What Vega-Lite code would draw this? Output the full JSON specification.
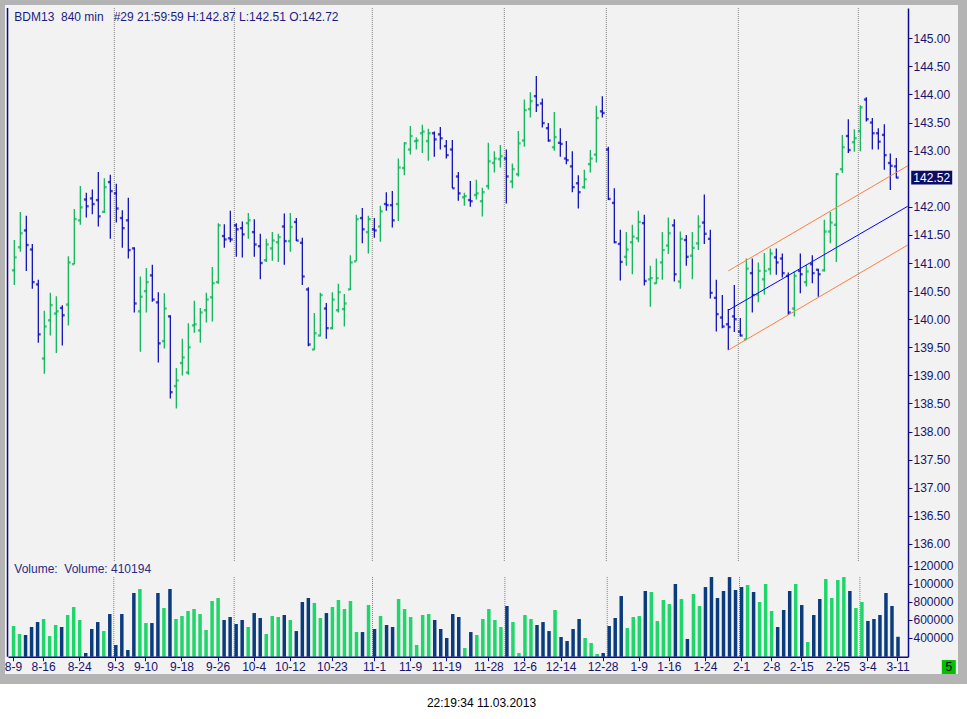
{
  "$schema": "https://vega.github.io/schema/vega-lite/v6.json",
  "width": 963,
  "height": 679,
  "autosize": {"type": "none"},
  "padding": {"left": 0, "top": 0, "right": 4, "bottom": 40},
  "background": "#ffffff",
  "config": {
    "font": "Liberation Sans",
    "view": {"fill": "#f2f2f2", "stroke": "#b4b4b4", "strokeWidth": 10}
  },
  "title": {
    "text": "22:19:34 11.03.2013",
    "orient": "bottom",
    "anchor": "middle",
    "frame": "group",
    "fontSize": 12,
    "fontWeight": "normal",
    "color": "#000000",
    "offset": 19
  },
  "data": {
    "values": [
      {"i":0,"d":"8-9","O":140.87,"H":141.41,"L":140.61,"C":141.10,"V":530000},
      {"i":1,"d":"8-10","O":141.28,"H":141.91,"L":141.20,"C":141.53,"V":441000},
      {"i":2,"d":"8-13","O":141.58,"H":141.84,"L":140.86,"C":141.32,"V":430000},
      {"i":3,"d":"8-14","O":141.24,"H":141.34,"L":140.54,"C":140.66,"V":519000},
      {"i":4,"d":"8-15","O":140.62,"H":140.70,"L":139.58,"C":139.73,"V":574000},
      {"i":5,"d":"8-16","O":139.30,"H":140.15,"L":139.03,"C":139.87,"V":608000},
      {"i":6,"d":"8-17","O":139.98,"H":140.47,"L":139.71,"C":140.25,"V":419000},
      {"i":7,"d":"8-20","O":140.10,"H":140.41,"L":139.40,"C":140.14,"V":541000},
      {"i":8,"d":"8-21","O":140.20,"H":140.25,"L":139.53,"C":140.07,"V":519000},
      {"i":9,"d":"8-22","O":140.26,"H":141.12,"L":139.89,"C":141.01,"V":652000},
      {"i":10,"d":"8-23","O":140.98,"H":141.96,"L":140.98,"C":141.78,"V":741000},
      {"i":11,"d":"8-24","O":141.76,"H":142.37,"L":141.68,"C":141.99,"V":597000},
      {"i":12,"d":"8-27","O":142.13,"H":142.25,"L":141.81,"C":142.01,"V":230000},
      {"i":13,"d":"8-28","O":142.15,"H":142.31,"L":141.87,"C":142.05,"V":497000},
      {"i":14,"d":"8-29","O":142.12,"H":142.62,"L":141.65,"C":141.83,"V":574000},
      {"i":15,"d":"8-30","O":141.91,"H":142.51,"L":141.89,"C":142.35,"V":474000},
      {"i":16,"d":"8-31","O":142.44,"H":142.57,"L":141.43,"C":142.28,"V":663000},
      {"i":17,"d":"9-3","O":142.24,"H":142.41,"L":141.72,"C":141.97,"V":319000,"ms":1},
      {"i":18,"d":"9-4","O":141.80,"H":141.94,"L":141.27,"C":141.62,"V":663000},
      {"i":19,"d":"9-5","O":141.76,"H":142.16,"L":141.08,"C":141.23,"V":263000},
      {"i":20,"d":"9-6","O":141.26,"H":141.28,"L":140.12,"C":140.28,"V":897000},
      {"i":21,"d":"9-7","O":140.14,"H":140.76,"L":139.42,"C":140.40,"V":941000},
      {"i":22,"d":"9-10","O":140.50,"H":140.91,"L":140.12,"C":140.66,"V":563000},
      {"i":23,"d":"9-11","O":140.78,"H":140.97,"L":140.31,"C":140.35,"V":563000},
      {"i":24,"d":"9-12","O":140.30,"H":140.48,"L":139.23,"C":139.57,"V":897000},
      {"i":25,"d":"9-13","O":139.61,"H":140.46,"L":139.48,"C":140.19,"V":730000},
      {"i":26,"d":"9-14","O":140.05,"H":140.07,"L":138.59,"C":138.70,"V":941000},
      {"i":27,"d":"9-17","O":138.81,"H":139.13,"L":138.41,"C":138.91,"V":608000},
      {"i":28,"d":"9-18","O":139.22,"H":139.65,"L":139.00,"C":139.32,"V":641000},
      {"i":29,"d":"9-19","O":139.05,"H":139.93,"L":139.01,"C":139.50,"V":697000},
      {"i":30,"d":"9-20","O":139.89,"H":140.33,"L":139.76,"C":139.91,"V":719000},
      {"i":31,"d":"9-21","O":139.80,"H":140.20,"L":139.58,"C":140.12,"V":663000},
      {"i":32,"d":"9-24","O":140.16,"H":140.47,"L":139.94,"C":140.35,"V":486000},
      {"i":33,"d":"9-25","O":140.39,"H":140.93,"L":139.96,"C":140.64,"V":808000},
      {"i":34,"d":"9-26","O":140.66,"H":141.71,"L":140.63,"C":141.67,"V":841000},
      {"i":35,"d":"9-27","O":141.48,"H":141.69,"L":141.27,"C":141.42,"V":597000},
      {"i":36,"d":"9-28","O":141.44,"H":141.93,"L":141.37,"C":141.42,"V":630000},
      {"i":37,"d":"10-1","O":141.67,"H":141.71,"L":141.11,"C":141.60,"V":552000,"ms":1},
      {"i":38,"d":"10-2","O":141.62,"H":141.74,"L":141.10,"C":141.51,"V":597000},
      {"i":39,"d":"10-3","O":141.71,"H":141.89,"L":141.43,"C":141.76,"V":519000},
      {"i":40,"d":"10-4","O":141.55,"H":141.78,"L":141.11,"C":141.33,"V":674000},
      {"i":41,"d":"10-5","O":141.30,"H":141.52,"L":140.71,"C":141.00,"V":619000},
      {"i":42,"d":"10-8","O":141.05,"H":141.43,"L":141.02,"C":141.33,"V":441000},
      {"i":43,"d":"10-9","O":141.26,"H":141.55,"L":141.04,"C":141.40,"V":641000},
      {"i":44,"d":"10-10","O":141.37,"H":141.52,"L":141.02,"C":141.46,"V":630000},
      {"i":45,"d":"10-11","O":141.65,"H":141.88,"L":140.97,"C":141.39,"V":652000},
      {"i":46,"d":"10-12","O":141.39,"H":141.89,"L":141.20,"C":141.64,"V":597000},
      {"i":47,"d":"10-15","O":141.73,"H":141.80,"L":141.39,"C":141.40,"V":474000},
      {"i":48,"d":"10-16","O":141.36,"H":141.45,"L":140.61,"C":140.76,"V":797000},
      {"i":49,"d":"10-17","O":140.53,"H":140.57,"L":139.52,"C":139.55,"V":841000},
      {"i":50,"d":"10-18","O":139.46,"H":140.11,"L":139.45,"C":139.75,"V":786000},
      {"i":51,"d":"10-19","O":139.71,"H":140.47,"L":139.69,"C":140.43,"V":619000},
      {"i":52,"d":"10-22","O":140.19,"H":140.29,"L":139.65,"C":139.84,"V":674000},
      {"i":53,"d":"10-23","O":139.84,"H":140.48,"L":139.82,"C":140.35,"V":741000},
      {"i":54,"d":"10-24","O":140.16,"H":140.63,"L":140.12,"C":140.48,"V":819000},
      {"i":55,"d":"10-25","O":140.18,"H":140.45,"L":139.87,"C":140.28,"V":719000},
      {"i":56,"d":"10-26","O":140.53,"H":141.14,"L":140.52,"C":141.01,"V":808000},
      {"i":57,"d":"10-29","O":141.03,"H":141.86,"L":141.03,"C":141.78,"V":463000},
      {"i":58,"d":"10-30","O":141.80,"H":141.98,"L":141.35,"C":141.60,"V":463000},
      {"i":59,"d":"10-31","O":141.55,"H":141.84,"L":141.17,"C":141.78,"V":763000},
      {"i":60,"d":"11-1","O":141.60,"H":141.80,"L":141.45,"C":141.58,"V":497000,"ms":1},
      {"i":61,"d":"11-2","O":141.65,"H":142.02,"L":141.38,"C":141.92,"V":641000},
      {"i":62,"d":"11-5","O":142.05,"H":142.26,"L":141.93,"C":142.03,"V":541000},
      {"i":63,"d":"11-6","O":142.03,"H":142.28,"L":141.63,"C":141.76,"V":519000},
      {"i":64,"d":"11-7","O":142.05,"H":142.86,"L":141.75,"C":142.70,"V":830000},
      {"i":65,"d":"11-8","O":142.69,"H":143.15,"L":142.56,"C":143.13,"V":719000},
      {"i":66,"d":"11-9","O":143.02,"H":143.44,"L":142.93,"C":143.26,"V":630000},
      {"i":67,"d":"11-12","O":143.17,"H":143.24,"L":143.02,"C":143.18,"V":319000},
      {"i":68,"d":"11-13","O":143.31,"H":143.46,"L":142.96,"C":143.34,"V":652000},
      {"i":69,"d":"11-14","O":143.17,"H":143.39,"L":142.82,"C":143.31,"V":663000},
      {"i":70,"d":"11-15","O":143.31,"H":143.34,"L":142.89,"C":143.20,"V":597000},
      {"i":71,"d":"11-16","O":143.29,"H":143.42,"L":143.02,"C":143.22,"V":497000},
      {"i":72,"d":"11-19","O":143.08,"H":143.19,"L":142.86,"C":142.92,"V":397000},
      {"i":73,"d":"11-20","O":143.02,"H":143.19,"L":142.33,"C":142.33,"V":663000},
      {"i":74,"d":"11-21","O":142.54,"H":142.62,"L":142.11,"C":142.24,"V":630000},
      {"i":75,"d":"11-22","O":142.17,"H":142.25,"L":142.02,"C":142.19,"V":286000},
      {"i":76,"d":"11-23","O":142.12,"H":142.46,"L":142.00,"C":142.10,"V":463000},
      {"i":77,"d":"11-26","O":142.21,"H":142.48,"L":142.13,"C":142.24,"V":430000},
      {"i":78,"d":"11-27","O":142.10,"H":142.34,"L":141.83,"C":142.26,"V":608000},
      {"i":79,"d":"11-28","O":142.37,"H":143.14,"L":142.31,"C":142.81,"V":719000},
      {"i":80,"d":"11-29","O":142.78,"H":142.99,"L":142.61,"C":142.86,"V":597000},
      {"i":81,"d":"11-30","O":142.85,"H":143.10,"L":142.70,"C":142.90,"V":519000},
      {"i":82,"d":"12-3","O":142.86,"H":143.02,"L":142.06,"C":142.54,"V":752000,"ms":1},
      {"i":83,"d":"12-4","O":142.45,"H":142.77,"L":142.33,"C":142.67,"V":574000},
      {"i":84,"d":"12-5","O":142.58,"H":143.35,"L":142.54,"C":143.13,"V":230000},
      {"i":85,"d":"12-6","O":143.18,"H":143.91,"L":143.07,"C":143.72,"V":652000},
      {"i":86,"d":"12-7","O":143.74,"H":144.04,"L":143.59,"C":143.88,"V":608000},
      {"i":87,"d":"12-10","O":143.97,"H":144.33,"L":143.69,"C":143.81,"V":541000},
      {"i":88,"d":"12-11","O":143.84,"H":143.93,"L":143.41,"C":143.49,"V":574000},
      {"i":89,"d":"12-12","O":143.40,"H":143.49,"L":143.16,"C":143.18,"V":474000},
      {"i":90,"d":"12-13","O":143.06,"H":143.69,"L":143.00,"C":143.24,"V":708000},
      {"i":91,"d":"12-14","O":143.14,"H":143.40,"L":142.89,"C":143.12,"V":408000},
      {"i":92,"d":"12-17","O":142.86,"H":143.17,"L":142.76,"C":142.83,"V":363000},
      {"i":93,"d":"12-18","O":142.72,"H":142.99,"L":142.26,"C":142.35,"V":497000},
      {"i":94,"d":"12-19","O":142.42,"H":142.56,"L":141.97,"C":142.26,"V":608000},
      {"i":95,"d":"12-20","O":142.35,"H":142.66,"L":142.32,"C":142.49,"V":397000},
      {"i":96,"d":"12-21","O":142.76,"H":143.01,"L":142.61,"C":142.86,"V":341000},
      {"i":97,"d":"12-27","O":142.93,"H":143.80,"L":142.79,"C":143.58,"V":219000},
      {"i":98,"d":"12-28","O":143.70,"H":143.97,"L":143.59,"C":143.67,"V":230000},
      {"i":99,"d":"1-2","O":143.02,"H":143.07,"L":142.12,"C":142.14,"V":530000,"ms":1},
      {"i":100,"d":"1-3","O":142.07,"H":142.33,"L":141.35,"C":141.37,"V":619000},
      {"i":101,"d":"1-4","O":141.34,"H":141.59,"L":140.69,"C":141.02,"V":863000},
      {"i":102,"d":"1-7","O":141.11,"H":141.55,"L":140.95,"C":141.24,"V":508000},
      {"i":103,"d":"1-8","O":141.37,"H":141.68,"L":140.80,"C":141.47,"V":630000},
      {"i":104,"d":"1-9","O":141.44,"H":141.93,"L":141.37,"C":141.73,"V":641000},
      {"i":105,"d":"1-10","O":141.71,"H":141.86,"L":140.60,"C":140.68,"V":919000},
      {"i":106,"d":"1-11","O":140.71,"H":140.95,"L":140.22,"C":140.73,"V":908000},
      {"i":107,"d":"1-14","O":140.64,"H":141.08,"L":140.63,"C":140.73,"V":586000},
      {"i":108,"d":"1-15","O":141.01,"H":141.55,"L":140.70,"C":141.23,"V":819000},
      {"i":109,"d":"1-16","O":141.31,"H":141.81,"L":141.16,"C":141.53,"V":774000},
      {"i":110,"d":"1-17","O":141.67,"H":141.78,"L":140.67,"C":140.80,"V":997000},
      {"i":111,"d":"1-18","O":140.67,"H":141.56,"L":140.54,"C":141.43,"V":830000},
      {"i":112,"d":"1-21","O":141.41,"H":141.50,"L":140.95,"C":141.11,"V":386000},
      {"i":113,"d":"1-22","O":141.13,"H":141.55,"L":140.71,"C":141.27,"V":886000},
      {"i":114,"d":"1-23","O":141.35,"H":141.85,"L":141.23,"C":141.65,"V":752000},
      {"i":115,"d":"1-24","O":141.72,"H":142.22,"L":141.34,"C":141.52,"V":963000},
      {"i":116,"d":"1-25","O":141.43,"H":141.59,"L":140.37,"C":140.47,"V":1074000},
      {"i":117,"d":"1-28","O":140.38,"H":140.70,"L":139.78,"C":140.09,"V":841000},
      {"i":118,"d":"1-29","O":140.03,"H":140.43,"L":139.84,"C":139.87,"V":919000},
      {"i":119,"d":"1-30","O":139.91,"H":140.18,"L":139.45,"C":139.86,"V":1074000},
      {"i":120,"d":"1-31","O":140.05,"H":140.61,"L":139.77,"C":140.00,"V":930000},
      {"i":121,"d":"2-1","O":139.78,"H":140.02,"L":139.69,"C":139.71,"V":963000,"ms":1},
      {"i":122,"d":"2-4","O":139.64,"H":141.08,"L":139.63,"C":140.90,"V":986000},
      {"i":123,"d":"2-5","O":140.82,"H":141.08,"L":140.12,"C":140.43,"V":908000},
      {"i":124,"d":"2-6","O":140.44,"H":141.01,"L":140.30,"C":140.86,"V":797000},
      {"i":125,"d":"2-7","O":140.71,"H":141.18,"L":140.44,"C":140.86,"V":997000},
      {"i":126,"d":"2-8","O":140.89,"H":141.26,"L":140.79,"C":141.17,"V":697000},
      {"i":127,"d":"2-11","O":141.10,"H":141.26,"L":140.79,"C":141.01,"V":519000},
      {"i":128,"d":"2-12","O":141.08,"H":141.17,"L":140.74,"C":140.82,"V":708000},
      {"i":129,"d":"2-13","O":140.77,"H":140.83,"L":140.08,"C":140.12,"V":919000},
      {"i":130,"d":"2-14","O":140.19,"H":140.85,"L":140.05,"C":140.77,"V":997000},
      {"i":131,"d":"2-15","O":140.86,"H":141.17,"L":140.46,"C":140.80,"V":763000},
      {"i":132,"d":"2-18","O":140.66,"H":140.97,"L":140.58,"C":140.85,"V":352000},
      {"i":133,"d":"2-19","O":140.98,"H":141.14,"L":140.64,"C":140.82,"V":652000},
      {"i":134,"d":"2-20","O":140.88,"H":140.90,"L":140.40,"C":140.80,"V":830000},
      {"i":135,"d":"2-21","O":140.87,"H":141.77,"L":140.85,"C":141.56,"V":1052000},
      {"i":136,"d":"2-22","O":141.56,"H":141.91,"L":141.35,"C":141.72,"V":841000},
      {"i":137,"d":"2-25","O":141.68,"H":142.60,"L":141.02,"C":142.58,"V":1041000},
      {"i":138,"d":"2-26","O":142.67,"H":143.28,"L":142.60,"C":143.06,"V":1074000},
      {"i":139,"d":"2-27","O":143.26,"H":143.56,"L":142.96,"C":143.01,"V":919000},
      {"i":140,"d":"2-28","O":143.15,"H":143.38,"L":142.98,"C":143.22,"V":730000},
      {"i":141,"d":"3-1","O":143.35,"H":143.81,"L":142.99,"C":143.77,"V":797000,"ms":1},
      {"i":142,"d":"3-4","O":143.91,"H":143.95,"L":143.52,"C":143.56,"V":586000},
      {"i":143,"d":"3-5","O":143.50,"H":143.58,"L":143.02,"C":143.31,"V":608000},
      {"i":144,"d":"3-6","O":143.31,"H":143.40,"L":143.02,"C":143.16,"V":652000},
      {"i":145,"d":"3-7","O":143.28,"H":143.47,"L":142.66,"C":142.92,"V":897000},
      {"i":146,"d":"3-8","O":142.78,"H":142.95,"L":142.30,"C":142.73,"V":752000},
      {"i":147,"d":"3-11","O":142.72,"H":142.87,"L":142.51,"C":142.52,"V":410194}
    ]
  },
  "layer": [
    {
      "mark": {"type": "rule", "stroke": "#808080", "strokeWidth": 1, "strokeDash": [1, 1], "xOffset": -2},
      "encoding": {
        "x": {"field": "d", "type": "ordinal", "sort": {"field": "i", "op": "min"}, "axis": null,
              "scale": {"type": "band", "range": [8, 908], "paddingInner": 0.42, "paddingOuter": 1.21, "align": 0.314, "round": false}},
        "y": {"datum": 1074444, "type": "quantitative", "axis": null,
              "scale": {"type": "linear", "domain": [188889, 1207778], "range": [656.7, 565], "nice": false, "zero": false}},
        "y2": {"datum": 188889},
        "strokeOpacity": {"condition": {"test": "datum.ms", "value": 1}, "value": 0}
      }
    },
    {
      "mark": {"type": "bar"},
      "encoding": {
        "x": {"field": "d", "type": "ordinal", "sort": {"field": "i", "op": "min"},
              "scale": {"type": "band", "range": [8, 908], "paddingInner": 0.42, "paddingOuter": 1.21, "align": 0.314, "round": false},
              "axis": {"orient": "bottom", "offset": -22.3, "title": null, "grid": false, "labelAngle": 0, "zindex": 1,
                       "values": ["8-9", "8-16", "8-24", "9-3", "9-10", "9-18", "9-26", "10-4", "10-12", "10-23", "11-1", "11-9", "11-19", "11-28", "12-6", "12-14", "12-28", "1-9", "1-16", "1-24", "2-1", "2-8", "2-15", "2-25", "3-4", "3-11"],
                       "labelFontSize": 12, "labelColor": "#14146e", "labelPadding": 1, "labelOverlap": false,
                       "tickColor": "#0a0a8a", "tickSize": 4, "domainColor": "#0a0a8a", "domainWidth": 1.5}},
        "y": {"field": "V", "type": "quantitative",
              "scale": {"type": "linear", "domain": [188889, 1207778], "range": [656.7, 565], "nice": false, "zero": false},
              "axis": {"orient": "right", "offset": -55, "title": null, "grid": false, "zindex": 1,
                       "values": [400000, 600000, 800000, 1000000, 1200000],
                       "labelExpr": "substring(format(datum.value, 'd'), 0, 6)",
                       "labelFontSize": 12, "labelColor": "#14146e", "labelPadding": 1,
                       "tickColor": "#0a0a8a", "tickSize": 4, "domainColor": "#0a0a8a", "domainWidth": 1.5}},
        "y2": {"datum": 188889},
        "color": {"condition": {"test": "datum.C > datum.O", "value": "#1ed66a"}, "value": "#0a3c7d"}
      }
    },
    {
      "transform": [{"filter": "datum.ms"}],
      "mark": {"type": "rule", "stroke": "#808080", "strokeWidth": 1, "strokeDash": [1, 1], "xOffset": -2},
      "encoding": {
        "x": {"field": "i", "type": "quantitative", "axis": null,
              "scale": {"type": "linear", "domain": [-1.05, 148.95], "range": [8, 908], "nice": false, "zero": false}},
        "y": {"datum": 145.539, "type": "quantitative", "axis": null,
              "scale": {"type": "linear", "domain": [135.625, 145.539], "range": [565, 8], "nice": false, "zero": false}},
        "y2": {"datum": 135.68}
      }
    },
    {
      "data": {"values": [{}]},
      "mark": {"type": "rule", "stroke": "#0a0a8a", "strokeWidth": 1.5},
      "encoding": {
        "x": {"datum": -1.13, "type": "quantitative", "axis": null,
              "scale": {"type": "linear", "domain": [-1.05, 148.95], "range": [8, 908], "nice": false, "zero": false}},
        "y": {"datum": 145.539, "type": "quantitative", "axis": null,
              "scale": {"type": "linear", "domain": [135.625, 145.539], "range": [565, 8], "nice": false, "zero": false}},
        "y2": {"datum": 133.993}
      }
    },
    {
      "mark": {"type": "rule", "strokeWidth": 1.2},
      "encoding": {
        "x": {"field": "i", "type": "quantitative", "axis": null,
              "scale": {"type": "linear", "domain": [-1.05, 148.95], "range": [8, 908], "nice": false, "zero": false}},
        "y": {"field": "L", "type": "quantitative",
              "scale": {"type": "linear", "domain": [135.625, 145.539], "range": [565, 8], "nice": false, "zero": false},
              "axis": {"orient": "right", "offset": -55, "title": null, "grid": false, "zindex": 1,
                       "values": [136, 136.5, 137, 137.5, 138, 138.5, 139, 139.5, 140, 140.5, 141, 141.5, 142, 143, 143.5, 144, 144.5, 145],
                       "format": ".2f", "labelFontSize": 12, "labelColor": "#14146e", "labelPadding": 1,
                       "tickColor": "#0a0a8a", "tickSize": 4, "domainColor": "#0a0a8a", "domainWidth": 1.5}},
        "y2": {"field": "H"},
        "color": {"condition": {"test": "datum.C > datum.O", "value": "#00b050"}, "value": "#0000b4"}
      }
    },
    {
      "mark": {"type": "tick", "orient": "horizontal", "size": 2.4, "thickness": 2.4, "xOffset": -1.2},
      "encoding": {
        "x": {"field": "i", "type": "quantitative", "axis": null,
              "scale": {"type": "linear", "domain": [-1.05, 148.95], "range": [8, 908], "nice": false, "zero": false}},
        "y": {"field": "O", "type": "quantitative", "axis": null,
              "scale": {"type": "linear", "domain": [135.625, 145.539], "range": [565, 8], "nice": false, "zero": false}},
        "color": {"condition": {"test": "datum.C > datum.O", "value": "#00b050"}, "value": "#0000b4"}
      }
    },
    {
      "mark": {"type": "tick", "orient": "horizontal", "size": 2.4, "thickness": 2.4, "xOffset": 1.2},
      "encoding": {
        "x": {"field": "i", "type": "quantitative", "axis": null,
              "scale": {"type": "linear", "domain": [-1.05, 148.95], "range": [8, 908], "nice": false, "zero": false}},
        "y": {"field": "C", "type": "quantitative", "axis": null,
              "scale": {"type": "linear", "domain": [135.625, 145.539], "range": [565, 8], "nice": false, "zero": false}},
        "color": {"condition": {"test": "datum.C > datum.O", "value": "#00b050"}, "value": "#0000b4"}
      }
    },
    {
      "data": {
        "values": [
          {"i": 119, "p": 140.86, "s": "up"},
          {"i": 148.9, "p": 142.73, "s": "up"},
          {"i": 119, "p": 140.16, "s": "mid"},
          {"i": 148.9, "p": 142.01, "s": "mid"},
          {"i": 119, "p": 139.45, "s": "lo"},
          {"i": 148.9, "p": 141.32, "s": "lo"}
        ]
      },
      "mark": {"type": "line", "strokeWidth": 1},
      "encoding": {
        "x": {"field": "i", "type": "quantitative", "axis": null,
              "scale": {"type": "linear", "domain": [-1.05, 148.95], "range": [8, 908], "nice": false, "zero": false}},
        "y": {"field": "p", "type": "quantitative", "axis": null,
              "scale": {"type": "linear", "domain": [135.625, 145.539], "range": [565, 8], "nice": false, "zero": false}},
        "color": {"field": "s", "type": "nominal", "legend": null,
                  "scale": {"domain": ["up", "mid", "lo"], "range": ["#ff7f3f", "#0000ff", "#ff7f3f"]}}
      }
    },
    {
      "transform": [{"filter": "datum.i == 147"}],
      "mark": {"type": "point", "shape": "M-1,-0.34L1,-0.34L1,0.34L-1,0.34Z", "size": 1681,
               "filled": true, "color": "#0c0c66", "opacity": 1},
      "encoding": {
        "x": {"datum": 152.9, "type": "quantitative", "axis": null,
              "scale": {"type": "linear", "domain": [-1.05, 148.95], "range": [8, 908], "nice": false, "zero": false}},
        "y": {"field": "C", "type": "quantitative", "axis": null,
              "scale": {"type": "linear", "domain": [135.625, 145.539], "range": [565, 8], "nice": false, "zero": false}}
      }
    },
    {
      "transform": [{"filter": "datum.i == 147"}],
      "mark": {"type": "text", "color": "#ffffff", "fontSize": 12, "align": "center", "baseline": "middle"},
      "encoding": {
        "x": {"datum": 152.9, "type": "quantitative", "axis": null,
              "scale": {"type": "linear", "domain": [-1.05, 148.95], "range": [8, 908], "nice": false, "zero": false}},
        "y": {"field": "C", "type": "quantitative", "axis": null,
              "scale": {"type": "linear", "domain": [135.625, 145.539], "range": [565, 8], "nice": false, "zero": false}},
        "text": {"field": "C", "type": "quantitative", "format": ".2f"}
      }
    },
    {
      "data": {"values": [{"t": "BDM13\u00a0 840 min\u00a0\u00a0 #29 21:59:59 H:142.87 L:142.51 O:142.72"}]},
      "mark": {"type": "text", "align": "left", "baseline": "middle", "fontSize": 12, "color": "#1c1c80"},
      "encoding": {
        "x": {"datum": 0, "type": "quantitative", "axis": null,
              "scale": {"type": "linear", "domain": [-1.05, 148.95], "range": [8, 908], "nice": false, "zero": false}},
        "y": {"datum": 145.384, "type": "quantitative", "axis": null,
              "scale": {"type": "linear", "domain": [135.625, 145.539], "range": [565, 8], "nice": false, "zero": false}},
        "text": {"field": "t"}
      }
    },
    {
      "data": {"values": [{"t": "Volume:\u00a0 Volume: 410194"}]},
      "mark": {"type": "text", "align": "left", "baseline": "middle", "fontSize": 12, "color": "#2a2a80"},
      "encoding": {
        "x": {"datum": 0, "type": "quantitative", "axis": null,
              "scale": {"type": "linear", "domain": [-1.05, 148.95], "range": [8, 908], "nice": false, "zero": false}},
        "y": {"datum": 135.548, "type": "quantitative", "axis": null,
              "scale": {"type": "linear", "domain": [135.625, 145.539], "range": [565, 8], "nice": false, "zero": false}},
        "text": {"field": "t"}
      }
    },
    {
      "data": {"values": [{"t": "5"}]},
      "mark": {"type": "point", "shape": "square", "size": 196, "filled": true, "color": "#00c000", "opacity": 1},
      "encoding": {
        "x": {"datum": 155.75, "type": "quantitative", "axis": null,
              "scale": {"type": "linear", "domain": [-1.05, 148.95], "range": [8, 908], "nice": false, "zero": false}},
        "y": {"datum": 133.809, "type": "quantitative", "axis": null,
              "scale": {"type": "linear", "domain": [135.625, 145.539], "range": [565, 8], "nice": false, "zero": false}}
      }
    },
    {
      "data": {"values": [{"t": "5"}]},
      "mark": {"type": "text", "align": "center", "baseline": "middle", "fontSize": 12, "color": "#000000"},
      "encoding": {
        "x": {"datum": 155.75, "type": "quantitative", "axis": null,
              "scale": {"type": "linear", "domain": [-1.05, 148.95], "range": [8, 908], "nice": false, "zero": false}},
        "y": {"datum": 133.809, "type": "quantitative", "axis": null,
              "scale": {"type": "linear", "domain": [135.625, 145.539], "range": [565, 8], "nice": false, "zero": false}},
        "text": {"field": "t"}
      }
    }
  ],
  "resolve": {"scale": {"x": "independent", "y": "independent"}}
}
